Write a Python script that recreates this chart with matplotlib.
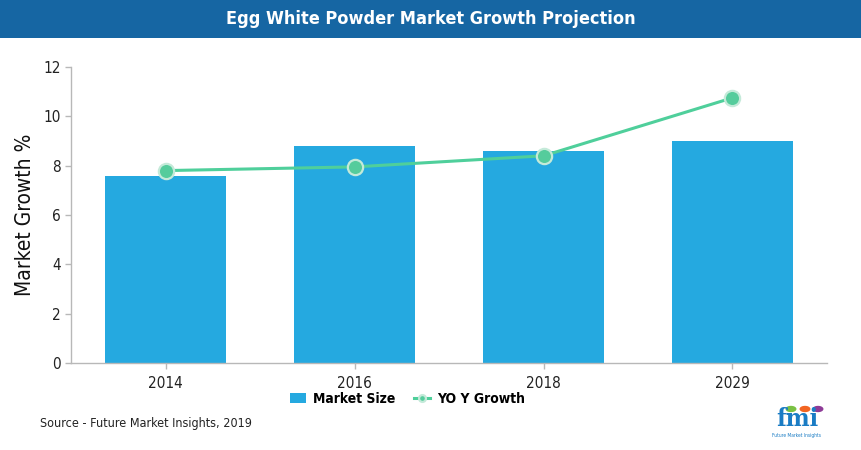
import matplotlib
matplotlib.use("Agg")
import matplotlib.pyplot as plt
from matplotlib.patches import Rectangle

years = ["2014", "2016", "2018", "2029"]
market_size = [7.6, 8.8, 8.6, 9.0]
yoy_growth = [7.8, 7.95, 8.4, 10.75]
y_ticks = [0, 2, 4, 6, 8, 10, 12]

title = "Egg White Powder Market Growth Projection"
source = "Source - Future Market Insights, 2019"

bar_color = "#25a9e0"
line_color = "#4fcf9b"
axis_color = "#b8b8b8"
plt.rcParams["font.family"] = ["DejaVu Sans"]
plt.rcParams["font.stretch"] = "condensed"

fig = plt.figure(figsize=(8.62, 4.5), dpi=100)

# title banner
fig.patches.append(Rectangle((0, 1 - 38 / 450), 1, 38 / 450, transform=fig.transFigure,
                             facecolor="#1666a3", edgecolor="none", zorder=0))
fig.text(0.5, 1 - 19 / 450, title, color="white", fontsize=13, fontweight="bold",
         ha="center", va="center")

ax = fig.add_axes([71 / 862, 87 / 450, 756 / 862, 296 / 450])
x = range(len(years))
bars = ax.bar(x, market_size, width=0.645, color=bar_color, label="Market Size", zorder=2)
line, = ax.plot(x, yoy_growth, color=line_color, lw=2.2, marker="o", markersize=11,
                markerfacecolor="#55cc9c", markeredgecolor="#c4ead9", markeredgewidth=1.6,
                label="YO Y Growth", zorder=3)

ax.set_xlim(-0.5, 3.5)
ax.set_ylim(0, 12)
ax.set_yticks(y_ticks)
ax.set_xticks(list(x))
ax.set_xticklabels(years)
ax.tick_params(axis="both", colors=axis_color, labelcolor="#222222", labelsize=11,
               length=4, width=1)
ax.tick_params(axis="x", pad=5)
for s in ["top", "right"]:
    ax.spines[s].set_visible(False)
for s in ["left", "bottom"]:
    ax.spines[s].set_color(axis_color)
    ax.spines[s].set_linewidth(1)
ax.set_ylabel("Market Growth %", fontsize=15, color="#111111", labelpad=6)

leg = ax.legend([bars, line], ["Market Size", "YO Y Growth"], loc="center",
                bbox_to_anchor=(0.445, -0.12), ncol=2, frameon=False,
                fontsize=10, handlelength=1.2, handletextpad=0.5, columnspacing=1.3,
                markerscale=0.45)
for t in leg.get_texts():
    t.set_fontweight("bold")

fig.text(40 / 862, 1 - 424 / 450, source, fontsize=9, color="#222222", va="center")

# logo
fig.text(797 / 862, 1 - 419 / 450, "fmi", fontsize=18, fontweight="bold", color="#1a7cc4",
         ha="center", va="center", family="DejaVu Serif")
for cx, c in [(791, "#7ac143"), (805, "#f26522"), (818, "#8e3b97")]:
    fig.patches.append(plt.Circle((cx / 862, 1 - 409 / 450), 0.0055, transform=fig.transFigure,
                                  color=c))
fig.text(797 / 862, 1 - 436 / 450, "Future Market Insights", fontsize=3.5, color="#1a7cc4",
         ha="center", va="center")

fig.savefig("out.png", dpi=100)
